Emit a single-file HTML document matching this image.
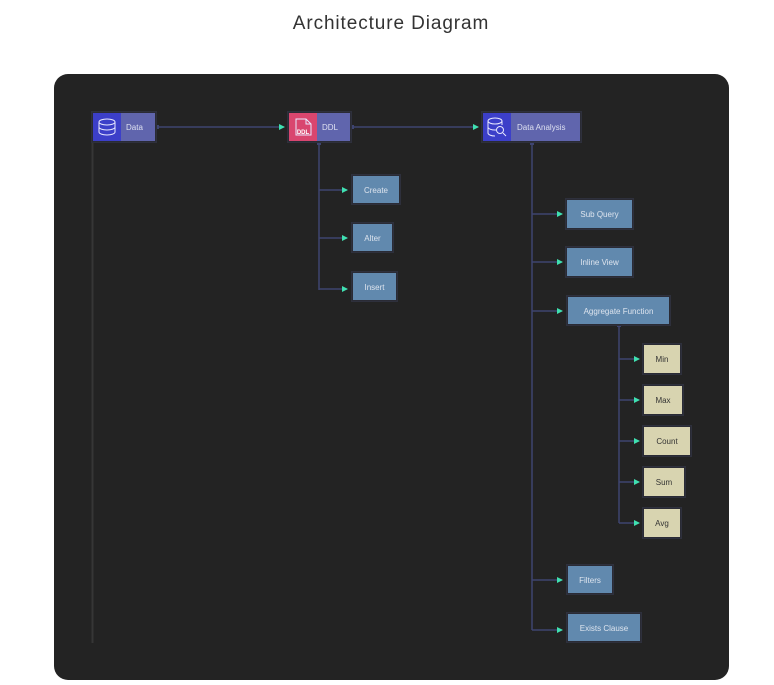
<!DOCTYPE html>
<html><head><meta charset="utf-8"><style>
html,body{margin:0;padding:0;background:#fff;width:774px;height:685px;overflow:hidden}
svg{display:block}
text{font-family:"Liberation Sans",sans-serif}
</style></head><body>
<svg width="774" height="685" viewBox="0 0 774 685">
<defs>
<marker id="a" markerWidth="6" markerHeight="6" refX="5" refY="3" orient="auto" markerUnits="userSpaceOnUse"><path d="M0,0 L6,3 L0,6 z" fill="#3fe0b0"/></marker>
</defs>
<text x="391" y="29" text-anchor="middle" font-size="19" letter-spacing="0.9" fill="#333">Architecture Diagram</text>
<rect x="54" y="74" width="675" height="606" rx="14" fill="#232323"/>
<line x1="92.5" y1="142" x2="92.5" y2="643" stroke="#363636" stroke-width="2"/>
<g stroke="#3e4470" stroke-width="1.5" fill="none">
<line x1="157" y1="127" x2="284" y2="127" marker-end="url(#a)"/>
<line x1="352" y1="127" x2="478" y2="127" marker-end="url(#a)"/>
<path d="M319,143 V290"/>
<line x1="319" y1="190" x2="347" y2="190" marker-end="url(#a)"/>
<line x1="319" y1="238" x2="347" y2="238" marker-end="url(#a)"/>
<line x1="319" y1="289" x2="347" y2="289" marker-end="url(#a)"/>
<path d="M532,143 V630"/>
<line x1="532" y1="214" x2="562" y2="214" marker-end="url(#a)"/>
<line x1="532" y1="262" x2="562" y2="262" marker-end="url(#a)"/>
<line x1="532" y1="311" x2="562" y2="311" marker-end="url(#a)"/>
<line x1="532" y1="580" x2="562" y2="580" marker-end="url(#a)"/>
<line x1="532" y1="630" x2="562" y2="630" marker-end="url(#a)"/>
<path d="M619,325 V523"/>
<line x1="619" y1="359" x2="639" y2="359" marker-end="url(#a)"/>
<line x1="619" y1="400" x2="639" y2="400" marker-end="url(#a)"/>
<line x1="619" y1="441" x2="639" y2="441" marker-end="url(#a)"/>
<line x1="619" y1="482" x2="639" y2="482" marker-end="url(#a)"/>
<line x1="619" y1="523" x2="639" y2="523" marker-end="url(#a)"/>
</g>
<g fill="#3e4470"><rect x="155" y="125" width="4" height="4"/><rect x="350" y="125" width="4" height="4"/><rect x="317" y="141" width="4" height="4"/><rect x="530" y="141" width="4" height="4"/><rect x="617" y="323" width="4" height="4"/></g>
<g stroke="#2e303c" stroke-width="1">
<rect x="91.5" y="111.5" width="65" height="31" fill="#2a2b35"/>
<rect x="287.5" y="111.5" width="64" height="31" fill="#2a2b35"/>
<rect x="481.5" y="111.5" width="100" height="31" fill="#2a2b35"/>
</g>
<rect x="93" y="113" width="28" height="28" fill="#3c3fc9"/><rect x="121" y="113" width="34" height="28" fill="#6065ad"/>
<rect x="289" y="113" width="28" height="28" fill="#d9466f"/><rect x="317" y="113" width="33" height="28" fill="#6065ad"/>
<rect x="483" y="113" width="28" height="28" fill="#3c3fc9"/><rect x="511" y="113" width="69" height="28" fill="#6065ad"/>
<g fill="none" stroke="#e8e8ff" stroke-width="1">
<ellipse cx="107" cy="122" rx="8" ry="3"/><path d="M99,122 V132 M115,122 V132 M99,127 A8,3 0 0 0 115,127 M99,132 A8,3 0 0 0 115,132"/>
<path d="M296,119 H306 L311,124 V135 H296 Z M306,119 V124 H311"/>
<ellipse cx="495" cy="121" rx="7" ry="3"/><path d="M488,121 V133 M502,121 V125 M488,127 A7,3 0 0 0 496,130 M488,133 A7,3 0 0 0 495,136"/><circle cx="500" cy="130" r="3.5"/><path d="M503,133 L506,136"/>
</g>
<text x="303" y="134" font-size="6" fill="#fff" text-anchor="middle" font-weight="bold">DDL</text>
<g font-size="8" fill="#dde0f0">
<text x="126" y="130">Data</text>
<text x="322" y="130">DDL</text>
<text x="517" y="130">Data Analysis</text>
</g>
<g stroke="#2e303c" stroke-width="1" fill="#2a2b35">
<rect x="351.5" y="174.5" width="49" height="30"/>
<rect x="351.5" y="222.5" width="42" height="30"/>
<rect x="351.5" y="271.5" width="46" height="30"/>
<rect x="565.5" y="198.5" width="68" height="31"/>
<rect x="565.5" y="246.5" width="68" height="31"/>
<rect x="566.5" y="295.5" width="104" height="30"/>
<rect x="566.5" y="564.5" width="47" height="30"/>
<rect x="566.5" y="612.5" width="75" height="30"/>
<rect x="642.5" y="343.5" width="39" height="31"/>
<rect x="642.5" y="384.5" width="41" height="31"/>
<rect x="642.5" y="425.5" width="49" height="31"/>
<rect x="642.5" y="466.5" width="43" height="31"/>
<rect x="642.5" y="507.5" width="39" height="31"/>
</g>
<g fill="#6189ae">
<rect x="353" y="176" width="46" height="27"/>
<rect x="353" y="224" width="39" height="27"/>
<rect x="353" y="273" width="43" height="27"/>
<rect x="567" y="200" width="65" height="28"/>
<rect x="567" y="248" width="65" height="28"/>
<rect x="568" y="297" width="101" height="27"/>
<rect x="568" y="566" width="44" height="27"/>
<rect x="568" y="614" width="72" height="27"/>
</g>
<g fill="#d8d4b0">
<rect x="644" y="345" width="36" height="28"/>
<rect x="644" y="386" width="38" height="28"/>
<rect x="644" y="427" width="46" height="28"/>
<rect x="644" y="468" width="40" height="28"/>
<rect x="644" y="509" width="36" height="28"/>
</g>
<g font-size="8" fill="#dde4ee" text-anchor="middle">
<text x="376" y="193">Create</text>
<text x="372.5" y="241">Alter</text>
<text x="374.5" y="290">Insert</text>
<text x="599.5" y="217">Sub Query</text>
<text x="599.5" y="265">Inline View</text>
<text x="618.5" y="314">Aggregate Function</text>
<text x="590" y="583">Filters</text>
<text x="604" y="631">Exists Clause</text>
</g>
<g font-size="8" fill="#333" text-anchor="middle">
<text x="662" y="362">Min</text>
<text x="663" y="403">Max</text>
<text x="667" y="444">Count</text>
<text x="664" y="485">Sum</text>
<text x="662" y="526">Avg</text>
</g>
</svg>
</body></html>
